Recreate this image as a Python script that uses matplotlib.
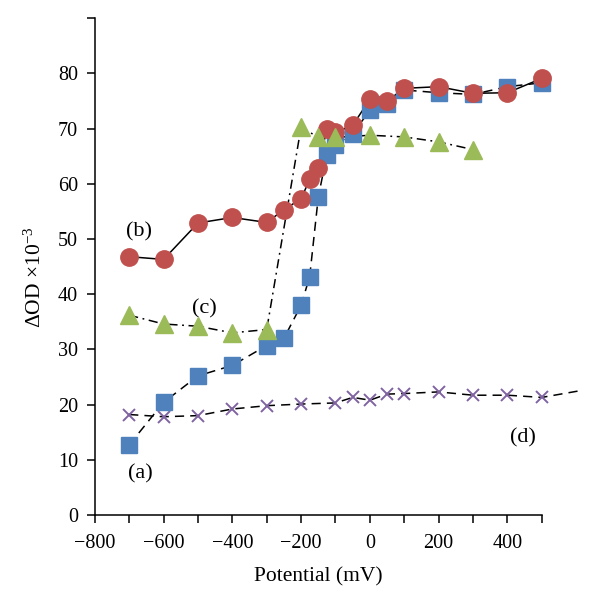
import matplotlib
matplotlib.use("Agg")
import matplotlib.pyplot as plt

# data (potential in mV, dOD x 1e-3)
a_x = [-700, -600, -500, -400, -300, -250, -200, -175, -150, -125, -100, -50, 0, 50, 100, 200, 300, 400, 500]
a_y = [12.7, 20.4, 25.2, 27.1, 30.7, 32.0, 38.0, 43.2, 57.6, 65.3, 67.0, 69.1, 73.3, 74.5, 77.0, 76.5, 76.2, 77.6, 78.3]

b_x = [-700, -600, -500, -400, -300, -250, -200, -175, -150, -125, -100, -50, 0, 50, 100, 200, 300, 400, 500]
b_y = [46.8, 46.3, 52.9, 53.9, 53.0, 55.3, 57.3, 60.8, 62.9, 70.0, 69.3, 70.6, 75.3, 75.0, 77.3, 77.6, 76.4, 76.5, 79.1]

c_x = [-700, -600, -500, -400, -300, -200, -150, -100, 0, 100, 200, 300]
c_y = [36.2, 34.6, 34.2, 33.0, 33.6, 70.3, 68.4, 68.4, 68.8, 68.5, 67.6, 66.2]

d_x = [-700, -600, -500, -400, -300, -200, -100, -50, 0, 50, 100, 200, 300, 400, 500]
d_y = [18.2, 17.8, 18.0, 19.2, 19.8, 20.1, 20.3, 21.3, 20.8, 21.9, 22.0, 22.3, 21.7, 21.7, 21.3]
# the dashed curve (d) runs on past the last marker
d_line_x = d_x + [610]
d_line_y = d_y + [22.5]

labels = ["(a)", "(b)", "(c)", "(d)"]
label_x = [-666, -671, -482, 445]
label_y = [7.5, 51.3, 37.3, 13.9]

plt.rcParams['font.family'] = ['Liberation Serif', 'DejaVu Serif']
plt.rcParams['mathtext.fontset'] = 'custom'
plt.rcParams['mathtext.rm'] = 'Liberation Serif'
plt.rcParams['mathtext.default'] = 'regular'
plt.rcParams['font.size'] = 14

fig = plt.figure(figsize=(6, 6.08), dpi=100)
ax = fig.add_axes([0.158, 0.153, 0.808, 0.817])

ax.plot(d_line_x, d_line_y, color='black', lw=1.1, dashes=(6, 4), zorder=2)
ax.plot(d_x, d_y, ls='none', marker='x', color='#8064A2', ms=9, mew=1.4, zorder=3)

ax.plot(a_x, a_y, color='black', lw=1.1, dashes=(6, 4), zorder=2)
ax.plot(a_x, a_y, ls='none', marker='s', color='#4F81BD', ms=11.5, zorder=4)

ax.plot(b_x, b_y, color='black', lw=1.1, zorder=2)
ax.plot(b_x, b_y, ls='none', marker='o', color='#C0504D', ms=12.5, zorder=5)

ax.plot(c_x, c_y, color='black', lw=1.1, dashes=(6, 3, 1.2, 3), zorder=2)
ax.plot(c_x, c_y, ls='none', marker='^', color='#9BBB59', ms=12.5, zorder=6)

for t, x, y in zip(labels, label_x, label_y):
    ax.text(x, y, t, ha='center', va='center', fontsize=16)

ax.set_xlim(-800, 610)
ax.set_ylim(0, 90)
ax.set_xticks(range(-800, 501, 100))
ax.set_xticklabels([str(v).replace('-', '\u2212') if v % 200 == 0 else '' for v in range(-800, 501, 100)])
ax.set_yticks(range(0, 91, 10))
ax.set_yticklabels([str(v) if v <= 80 else '' for v in range(0, 91, 10)])

ax.spines['top'].set_visible(False)
ax.spines['right'].set_visible(False)
ax.spines['bottom'].set_bounds(-800, 500)
for s in ['left', 'bottom']:
    ax.spines[s].set_linewidth(1.1)
ax.tick_params(direction='out', length=6, width=1.1, labelsize=14.5)
ax.tick_params(axis='x', pad=8)
ax.tick_params(axis='y', pad=6)

fig.text(318 / 600, 1 - 577 / 608, 'Potential (mV)', ha='center', va='center', fontsize=15.5)
fig.text(35 / 600, 1 - 277 / 608, 'ΔOD ×10$^{\u22123}$', ha='center', va='center',
         rotation=90, fontsize=15.5)

fig.savefig('out.png', dpi=100)
